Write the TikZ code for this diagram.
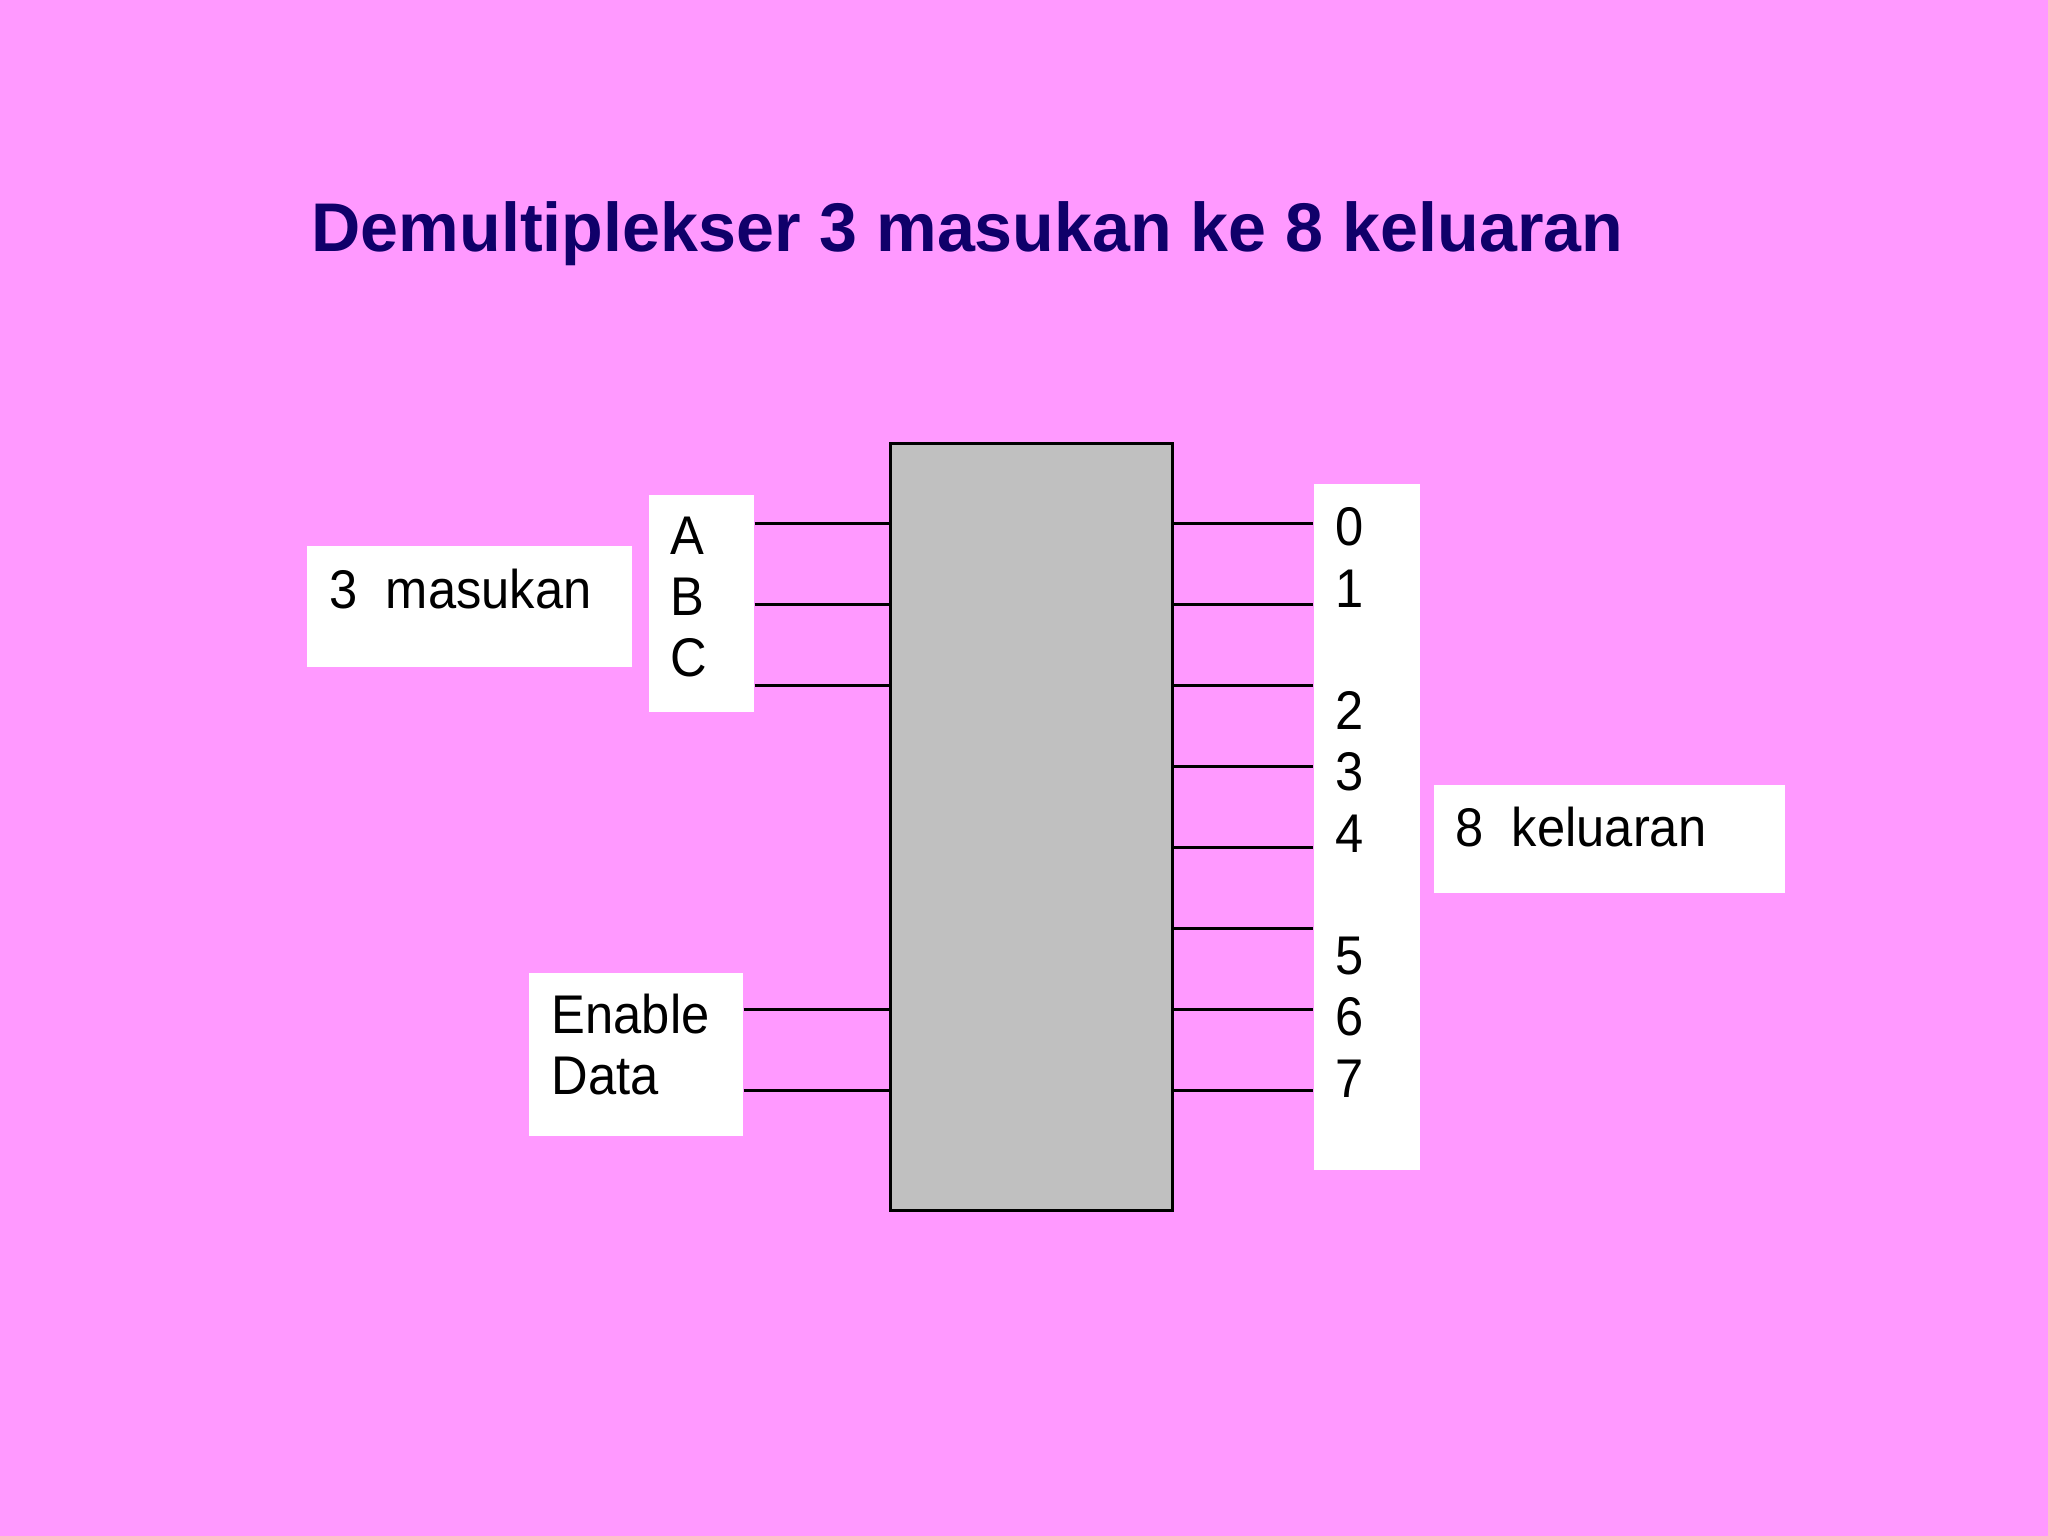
\documentclass[tikz,border=0pt]{standalone}
\usepackage{fontspec}
\setmainfont{Liberation Sans}
\newfontfamily\labfont[FakeStretch=0.93]{Liberation Sans}
\newfontfamily\ttlfont[FakeStretch=0.99]{Liberation Sans}
\usepackage{xcolor}
\usetikzlibrary{calc}
\definecolor{slide}{HTML}{FF99FF}
\definecolor{navy}{HTML}{10006A}
\definecolor{chip}{HTML}{C0C0C0}
\tikzset{
  lab/.style={text=black, font=\labfont\fontsize{15.5}{18}\selectfont, anchor=base west, inner sep=0pt},
  ttl/.style={text=navy, font=\ttlfont\fontsize{19.6}{24}\selectfont\bfseries, anchor=base west, inner sep=0pt},
  card/.style={fill=white, draw=none, inner sep=0pt},
  wire/.style={line width=0.8pt, draw=black}
}
\begin{document}
\begin{tikzpicture}
\fill[slide] (0,0) rectangle (20.48,-15.36);
\useasboundingbox (0,0) rectangle (20.48,-15.36);

% title
\node[ttl] (title) at (3.11,-2.52) {Demultiplekser 3 masukan ke 8 keluaran};

% demux block
\node[fill=chip, draw=black, line width=0.8pt, minimum width=2.82cm, minimum height=7.67cm, inner sep=0pt] (demux) at (10.318,-8.274) {};

% white label cards
\node[card, minimum width=3.25cm, minimum height=1.21cm] (incard) at (4.695,-6.067) {};
\node[card, minimum width=1.05cm, minimum height=2.17cm] (abc) at (7.013,-6.034) {};
\node[card, minimum width=2.14cm, minimum height=1.63cm] (encard) at (6.36,-10.545) {};
\node[card, minimum width=1.06cm, minimum height=6.86cm] (outcard) at (13.667,-8.274) {};
\node[card, minimum width=3.51cm, minimum height=1.08cm] (kelcard) at (16.095,-8.39) {};

% texts
\node[lab] (masukan) at (3.29,-6.086) {3\ \ masukan};
\node[lab] (inA) at (6.70,-5.55) {A};
\node[lab] (inB) at (6.70,-6.16) {B};
\node[lab] (inC) at (6.70,-6.77) {C};
\node[lab] (enable) at (5.51,-10.33) {Enable};
\node[lab] (data) at (5.51,-10.944) {Data};
\node[lab] (keluaran) at (14.55,-8.46) {8\ \ keluaran};
\foreach \d/\r in {0/0,1/1,2/3,3/4,4/5,5/7,6/8,7/9}
  \node[lab] (out\d) at (13.346,-5.459-0.6125*\r) {\d};

% input wires
\foreach \y in {5.237,6.047,6.857}
  \draw[wire] (abc.east |- 0,-\y) -- (demux.west |- 0,-\y);
\foreach \y in {10.095,10.905}
  \draw[wire] (encard.east |- 0,-\y) -- (demux.west |- 0,-\y);

% output wires
\foreach \k in {0,...,7}
  \draw[wire] (demux.east |- 0,{-5.237-0.81*\k}) -- (outcard.west |- 0,{-5.237-0.81*\k});
\end{tikzpicture}
\end{document}
